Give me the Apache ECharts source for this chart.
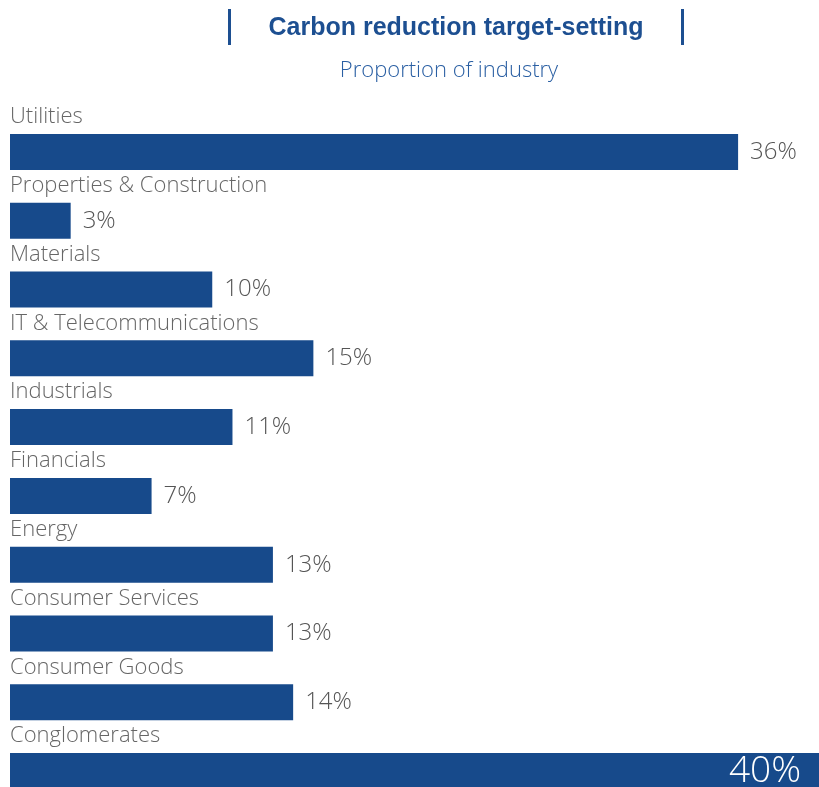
<!DOCTYPE html>
<html>
<head>
<meta charset="utf-8">
<title>Carbon reduction target-setting</title>
<script src="https://cdn.jsdelivr.net/npm/echarts@6/dist/echarts.min.js"></script>
<style>
  html, body { margin: 0; padding: 0; background: #ffffff; }
  #chart { width: 819px; height: 787px; }
</style>
</head>
<body>
<div id="chart"></div>
<script>
// Share of companies in each industry that set carbon reduction targets (%)
const industries = [
  'Utilities',
  'Properties & Construction',
  'Materials',
  'IT & Telecommunications',
  'Industrials',
  'Financials',
  'Energy',
  'Consumer Services',
  'Consumer Goods',
  'Conglomerates'
];
const shares = [36, 3, 10, 15, 11, 7, 13, 13, 14, 40];

const BAR = '#174a8b';
const TITLE = '#1d4f91';
const FONT = '"Open Sans", Roboto, sans-serif';

const chart = echarts.init(document.getElementById('chart'), null, { renderer: 'canvas' });

// the last bar carries its value inside, in larger white type
const valueData = shares.map((v, i) => {
  if (i === shares.length - 1) {
    return {
      value: v,
      label: {
        position: 'insideRight',
        distance: 18,
        color: '#ffffff',
        fontSize: 37,
        fontWeight: 300
      }
    };
  }
  return v;
});

chart.setOption({
  animation: false,
  title: [
    {
      text: 'Carbon reduction target-setting',
      left: 451,
      top: 11,
      textAlign: 'center',
      textStyle: { color: TITLE, fontSize: 25, fontWeight: 'bold', fontFamily: '"Liberation Sans", Arial, sans-serif' }
    },
    {
      text: 'Proportion of industry',
      left: 444,
      top: 55,
      textAlign: 'center',
      textStyle: { color: '#2a5fa3', fontSize: 22, fontWeight: 300, fontFamily: FONT }
    }
  ],
  graphic: [
    { type: 'rect', left: 228, top: 9, shape: { width: 3, height: 36 }, style: { fill: TITLE } },
    { type: 'rect', left: 681, top: 9, shape: { width: 3, height: 36 }, style: { fill: TITLE } }
  ],
  grid: { left: 10, right: 0, top: 117.5, height: 688, containLabel: false, outerBoundsMode: 'none' },
  xAxis: {
    type: 'value',
    min: 0,
    max: 40,
    show: false
  },
  yAxis: {
    type: 'category',
    data: industries,
    inverse: true,
    show: false
  },
  series: [
    {
      name: 'Share',
      type: 'bar',
      data: valueData,
      barWidth: 36,
      itemStyle: { color: BAR },
      label: {
        show: true,
        position: 'right',
        distance: 12,
        formatter: '{c}%',
        color: '#555555',
        fontSize: 24,
        fontWeight: 300,
        fontFamily: FONT
      },
      z: 2
    },
    {
      name: 'Industry',
      type: 'bar',
      data: shares,
      barWidth: 36,
      barGap: '-100%',
      itemStyle: { color: 'rgba(0,0,0,0)' },
      label: {
        show: true,
        position: [0, -17],
        align: 'left',
        verticalAlign: 'middle',
        formatter: (p) => p.name,
        color: '#666666',
        fontSize: 22,
        fontWeight: 300,
        fontFamily: FONT
      },
      silent: true,
      z: 3
    }
  ]
});
</script>
</body>
</html>
